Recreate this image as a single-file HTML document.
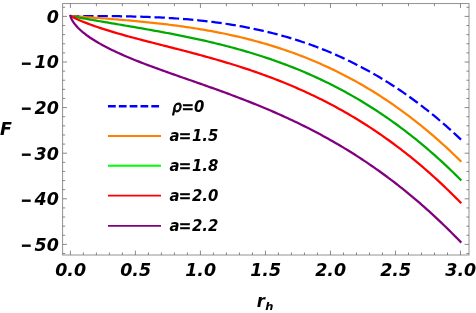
<!DOCTYPE html>
<html><head><meta charset="utf-8"><title>F vs r_h</title>
<style>html,body{margin:0;padding:0;background:#fff}svg{display:block;will-change:transform}text{font-family:"DejaVu Sans","Liberation Sans",sans-serif;font-weight:bold;font-style:italic;fill:#000}</style></head><body>
<svg width="476" height="313" viewBox="0 0 476 313">
<rect width="476" height="313" fill="#fff"/>
<polyline points="70.40,16.00 70.60,16.00 70.80,16.00 71.00,16.00 71.20,16.00 71.40,16.00 71.60,16.00 71.80,16.00 72.00,16.00 72.20,16.00 72.40,16.00 72.60,16.00 72.80,16.00 73.00,16.00 73.20,16.00 73.40,16.00 73.60,16.00 73.80,16.00 74.00,16.00 74.20,16.00 74.40,16.00 74.60,16.00 74.80,16.00 75.00,16.00 75.20,16.00 75.40,16.00 75.60,16.00 75.80,16.00 76.00,16.00 76.20,16.00 76.40,16.00 76.60,16.00 76.80,16.00 77.00,16.00 77.20,16.00 77.40,16.00 77.60,16.00 77.80,16.00 78.00,16.00 78.20,16.00 80.61,16.00 83.01,16.00 85.41,16.01 87.82,16.01 90.22,16.02 92.63,16.02 95.03,16.03 97.44,16.04 99.84,16.05 102.25,16.07 104.65,16.08 107.05,16.10 109.46,16.12 111.86,16.15 114.27,16.18 116.67,16.21 119.08,16.24 121.48,16.28 123.88,16.32 126.29,16.36 128.69,16.41 131.10,16.46 133.50,16.52 135.91,16.58 138.31,16.65 140.71,16.72 143.12,16.80 145.52,16.88 147.93,16.97 150.33,17.06 152.74,17.16 155.14,17.26 157.54,17.37 159.95,17.49 162.35,17.61 164.76,17.74 167.16,17.88 169.57,18.02 171.97,18.17 174.37,18.33 176.78,18.50 179.18,18.67 181.59,18.85 183.99,19.04 186.40,19.24 188.80,19.44 191.21,19.66 193.61,19.88 196.01,20.11 198.42,20.35 200.82,20.60 203.23,20.86 205.63,21.13 208.04,21.41 210.44,21.70 212.84,21.99 215.25,22.30 217.65,22.62 220.06,22.95 222.46,23.29 224.87,23.64 227.27,24.01 229.67,24.38 232.08,24.77 234.48,25.16 236.89,25.57 239.29,25.99 241.70,26.43 244.10,26.87 246.50,27.33 248.91,27.80 251.31,28.28 253.72,28.78 256.12,29.29 258.53,29.81 260.93,30.35 263.34,30.90 265.74,31.46 268.14,32.04 270.55,32.63 272.95,33.24 275.36,33.86 277.76,34.49 280.17,35.14 282.57,35.81 284.97,36.49 287.38,37.19 289.78,37.90 292.19,38.63 294.59,39.37 297.00,40.13 299.40,40.91 301.80,41.70 304.21,42.51 306.61,43.34 309.02,44.18 311.42,45.04 313.83,45.92 316.23,46.81 318.63,47.73 321.04,48.66 323.44,49.61 325.85,50.57 328.25,51.56 330.66,52.56 333.06,53.59 335.46,54.63 337.87,55.69 340.27,56.77 342.68,57.87 345.08,58.99 347.49,60.12 349.89,61.28 352.30,62.46 354.70,63.66 357.10,64.88 359.51,66.12 361.91,67.38 364.32,68.66 366.72,69.97 369.13,71.29 371.53,72.64 373.93,74.00 376.34,75.39 378.74,76.80 381.15,78.24 383.55,79.69 385.96,81.17 388.36,82.67 390.76,84.20 393.17,85.74 395.57,87.31 397.98,88.91 400.38,90.53 402.79,92.17 405.19,93.83 407.59,95.52 410.00,97.23 412.40,98.97 414.81,100.73 417.21,102.52 419.62,104.33 422.02,106.17 424.43,108.03 426.83,109.92 429.23,111.83 431.64,113.77 434.04,115.74 436.45,117.73 438.85,119.75 441.26,121.79 443.66,123.86 446.06,125.96 448.47,128.08 450.87,130.24 453.28,132.42 455.68,134.62 458.09,136.86 460.49,139.12 461.01,139.61" fill="none" stroke="#0000ff" stroke-width="2.25" stroke-linejoin="round" stroke-dasharray="10.4 3.87" stroke-dashoffset="1.5"/>
<polyline points="71.53,16.08 71.70,16.09 71.87,16.11 72.04,16.12 72.21,16.13 72.38,16.14 72.55,16.15 72.72,16.17 72.89,16.18 73.07,16.19 73.24,16.20 73.41,16.22 73.58,16.23 73.75,16.24 73.92,16.25 74.09,16.27 74.26,16.28 74.44,16.29 74.61,16.30 74.78,16.31 74.95,16.33 75.12,16.34 75.29,16.35 75.46,16.36 75.63,16.38 75.81,16.39 75.98,16.40 76.15,16.41 76.32,16.42 76.49,16.44 76.66,16.45 76.83,16.46 77.00,16.47 77.17,16.49 77.35,16.50 77.52,16.51 77.69,16.52 77.86,16.53 78.03,16.55 78.20,16.56 80.61,16.73 83.01,16.90 85.41,17.08 87.82,17.25 90.22,17.43 92.63,17.60 95.03,17.78 97.44,17.95 99.84,18.13 102.25,18.31 104.65,18.50 107.05,18.68 109.46,18.87 111.86,19.06 114.27,19.25 116.67,19.44 119.08,19.64 121.48,19.84 123.88,20.04 126.29,20.25 128.69,20.46 131.10,20.68 133.50,20.89 135.91,21.11 138.31,21.34 140.71,21.57 143.12,21.81 145.52,22.05 147.93,22.29 150.33,22.54 152.74,22.80 155.14,23.06 157.54,23.32 159.95,23.60 162.35,23.87 164.76,24.16 167.16,24.45 169.57,24.75 171.97,25.05 174.37,25.36 176.78,25.68 179.18,26.00 181.59,26.33 183.99,26.67 186.40,27.02 188.80,27.38 191.21,27.74 193.61,28.11 196.01,28.49 198.42,28.88 200.82,29.27 203.23,29.68 205.63,30.10 208.04,30.52 210.44,30.95 212.84,31.40 215.25,31.85 217.65,32.31 220.06,32.79 222.46,33.27 224.87,33.76 227.27,34.27 229.67,34.78 232.08,35.31 234.48,35.85 236.89,36.40 239.29,36.96 241.70,37.53 244.10,38.11 246.50,38.71 248.91,39.32 251.31,39.94 253.72,40.57 256.12,41.22 258.53,41.87 260.93,42.55 263.34,43.23 265.74,43.93 268.14,44.64 270.55,45.37 272.95,46.11 275.36,46.86 277.76,47.63 280.17,48.41 282.57,49.21 284.97,50.02 287.38,50.85 289.78,51.69 292.19,52.55 294.59,53.42 297.00,54.31 299.40,55.21 301.80,56.13 304.21,57.07 306.61,58.02 309.02,58.99 311.42,59.98 313.83,60.98 316.23,62.00 318.63,63.04 321.04,64.09 323.44,65.16 325.85,66.25 328.25,67.36 330.66,68.49 333.06,69.63 335.46,70.80 337.87,71.98 340.27,73.18 342.68,74.40 345.08,75.63 347.49,76.89 349.89,78.17 352.30,79.46 354.70,80.78 357.10,82.12 359.51,83.47 361.91,84.85 364.32,86.25 366.72,87.67 369.13,89.10 371.53,90.56 373.93,92.05 376.34,93.55 378.74,95.07 381.15,96.62 383.55,98.19 385.96,99.78 388.36,101.39 390.76,103.02 393.17,104.68 395.57,106.36 397.98,108.06 400.38,109.79 402.79,111.54 405.19,113.31 407.59,115.10 410.00,116.92 412.40,118.77 414.81,120.64 417.21,122.53 419.62,124.45 422.02,126.39 424.43,128.35 426.83,130.35 429.23,132.36 431.64,134.40 434.04,136.47 436.45,138.56 438.85,140.68 441.26,142.83 443.66,145.00 446.06,147.20 448.47,149.42 450.87,151.67 453.28,153.95 455.68,156.26 458.09,158.59 460.49,160.95" fill="none" stroke="#ff8000" stroke-width="2.25" stroke-linejoin="round" stroke-linecap="square"/>
<polyline points="71.53,16.21 71.70,16.24 71.87,16.27 72.04,16.30 72.21,16.34 72.38,16.37 72.55,16.40 72.72,16.43 72.89,16.46 73.07,16.49 73.24,16.53 73.41,16.56 73.58,16.59 73.75,16.62 73.92,16.65 74.09,16.68 74.26,16.71 74.44,16.75 74.61,16.78 74.78,16.81 74.95,16.84 75.12,16.87 75.29,16.90 75.46,16.93 75.63,16.96 75.81,17.00 75.98,17.03 76.15,17.06 76.32,17.09 76.49,17.12 76.66,17.15 76.83,17.18 77.00,17.21 77.17,17.25 77.35,17.28 77.52,17.31 77.69,17.34 77.86,17.37 78.03,17.40 78.20,17.43 80.61,17.86 83.01,18.30 85.41,18.72 87.82,19.15 90.22,19.57 92.63,19.99 95.03,20.41 97.44,20.82 99.84,21.24 102.25,21.65 104.65,22.06 107.05,22.47 109.46,22.88 111.86,23.29 114.27,23.70 116.67,24.10 119.08,24.51 121.48,24.92 123.88,25.33 126.29,25.74 128.69,26.15 131.10,26.56 133.50,26.97 135.91,27.39 138.31,27.80 140.71,28.22 143.12,28.64 145.52,29.06 147.93,29.49 150.33,29.91 152.74,30.34 155.14,30.78 157.54,31.21 159.95,31.65 162.35,32.10 164.76,32.55 167.16,33.00 169.57,33.45 171.97,33.92 174.37,34.38 176.78,34.85 179.18,35.33 181.59,35.81 183.99,36.30 186.40,36.79 188.80,37.29 191.21,37.79 193.61,38.30 196.01,38.82 198.42,39.34 200.82,39.88 203.23,40.41 205.63,40.96 208.04,41.51 210.44,42.07 212.84,42.64 215.25,43.22 217.65,43.81 220.06,44.40 222.46,45.00 224.87,45.61 227.27,46.24 229.67,46.87 232.08,47.51 234.48,48.15 236.89,48.81 239.29,49.48 241.70,50.16 244.10,50.85 246.50,51.55 248.91,52.27 251.31,52.99 253.72,53.72 256.12,54.47 258.53,55.23 260.93,55.99 263.34,56.78 265.74,57.57 268.14,58.37 270.55,59.19 272.95,60.02 275.36,60.87 277.76,61.72 280.17,62.59 282.57,63.48 284.97,64.38 287.38,65.29 289.78,66.21 292.19,67.15 294.59,68.11 297.00,69.08 299.40,70.06 301.80,71.06 304.21,72.08 306.61,73.11 309.02,74.15 311.42,75.21 313.83,76.29 316.23,77.38 318.63,78.49 321.04,79.62 323.44,80.76 325.85,81.92 328.25,83.10 330.66,84.30 333.06,85.51 335.46,86.74 337.87,87.99 340.27,89.25 342.68,90.54 345.08,91.84 347.49,93.16 349.89,94.50 352.30,95.86 354.70,97.24 357.10,98.63 359.51,100.05 361.91,101.49 364.32,102.95 366.72,104.42 369.13,105.92 371.53,107.44 373.93,108.98 376.34,110.53 378.74,112.11 381.15,113.72 383.55,115.34 385.96,116.98 388.36,118.65 390.76,120.34 393.17,122.05 395.57,123.78 397.98,125.53 400.38,127.31 402.79,129.11 405.19,130.93 407.59,132.78 410.00,134.65 412.40,136.55 414.81,138.46 417.21,140.40 419.62,142.37 422.02,144.36 424.43,146.37 426.83,148.41 429.23,150.48 431.64,152.57 434.04,154.68 436.45,156.82 438.85,158.98 441.26,161.17 443.66,163.39 446.06,165.63 448.47,167.90 450.87,170.20 453.28,172.52 455.68,174.87 458.09,177.25 460.49,179.65" fill="none" stroke="#00aa00" stroke-width="2.25" stroke-linejoin="round" stroke-linecap="square"/>
<polyline points="71.53,16.56 71.70,16.64 71.87,16.73 72.04,16.81 72.21,16.90 72.38,16.98 72.55,17.06 72.72,17.14 72.89,17.23 73.07,17.31 73.24,17.39 73.41,17.47 73.58,17.55 73.75,17.63 73.92,17.71 74.09,17.80 74.26,17.88 74.44,17.96 74.61,18.04 74.78,18.11 74.95,18.19 75.12,18.27 75.29,18.35 75.46,18.43 75.63,18.51 75.81,18.59 75.98,18.66 76.15,18.74 76.32,18.82 76.49,18.90 76.66,18.97 76.83,19.05 77.00,19.13 77.17,19.20 77.35,19.28 77.52,19.36 77.69,19.43 77.86,19.51 78.03,19.58 78.20,19.66 80.61,20.69 83.01,21.69 85.41,22.65 87.82,23.58 90.22,24.48 92.63,25.36 95.03,26.21 97.44,27.04 99.84,27.85 102.25,28.64 104.65,29.42 107.05,30.17 109.46,30.92 111.86,31.65 114.27,32.37 116.67,33.07 119.08,33.77 121.48,34.45 123.88,35.13 126.29,35.80 128.69,36.46 131.10,37.11 133.50,37.76 135.91,38.40 138.31,39.03 140.71,39.67 143.12,40.29 145.52,40.92 147.93,41.54 150.33,42.16 152.74,42.77 155.14,43.39 157.54,44.00 159.95,44.61 162.35,45.23 164.76,45.84 167.16,46.45 169.57,47.06 171.97,47.68 174.37,48.29 176.78,48.91 179.18,49.53 181.59,50.15 183.99,50.78 186.40,51.40 188.80,52.03 191.21,52.67 193.61,53.31 196.01,53.95 198.42,54.60 200.82,55.25 203.23,55.91 205.63,56.57 208.04,57.24 210.44,57.91 212.84,58.59 215.25,59.28 217.65,59.97 220.06,60.67 222.46,61.38 224.87,62.09 227.27,62.81 229.67,63.54 232.08,64.28 234.48,65.03 236.89,65.78 239.29,66.54 241.70,67.32 244.10,68.10 246.50,68.89 248.91,69.69 251.31,70.50 253.72,71.33 256.12,72.16 258.53,73.00 260.93,73.85 263.34,74.72 265.74,75.59 268.14,76.48 270.55,77.38 272.95,78.29 275.36,79.21 277.76,80.15 280.17,81.10 282.57,82.06 284.97,83.03 287.38,84.02 289.78,85.02 292.19,86.03 294.59,87.06 297.00,88.10 299.40,89.16 301.80,90.23 304.21,91.31 306.61,92.41 309.02,93.53 311.42,94.66 313.83,95.80 316.23,96.96 318.63,98.14 321.04,99.33 323.44,100.54 325.85,101.77 328.25,103.01 330.66,104.27 333.06,105.55 335.46,106.84 337.87,108.15 340.27,109.48 342.68,110.82 345.08,112.19 347.49,113.57 349.89,114.97 352.30,116.39 354.70,117.83 357.10,119.28 359.51,120.76 361.91,122.25 364.32,123.77 366.72,125.30 369.13,126.85 371.53,128.43 373.93,130.02 376.34,131.64 378.74,133.27 381.15,134.93 383.55,136.61 385.96,138.30 388.36,140.02 390.76,141.76 393.17,143.53 395.57,145.31 397.98,147.12 400.38,148.95 402.79,150.80 405.19,152.67 407.59,154.57 410.00,156.49 412.40,158.44 414.81,160.40 417.21,162.39 419.62,164.41 422.02,166.45 424.43,168.51 426.83,170.59 429.23,172.71 431.64,174.84 434.04,177.00 436.45,179.19 438.85,181.40 441.26,183.64 443.66,185.90 446.06,188.19 448.47,190.50 450.87,192.84 453.28,195.21 455.68,197.60 458.09,200.02 460.49,202.47" fill="none" stroke="#ff0000" stroke-width="2.25" stroke-linejoin="round" stroke-linecap="square"/>
<polyline points="70.40,16.00 70.60,16.65 70.80,17.22 71.00,17.74 71.20,18.22 71.40,18.67 71.60,19.09 71.80,19.49 72.00,19.87 72.20,20.24 72.40,20.59 72.60,20.93 72.80,21.25 73.00,21.57 73.20,21.88 73.40,22.18 73.60,22.48 73.80,22.76 74.00,23.04 74.20,23.32 74.40,23.59 74.60,23.85 74.80,24.11 75.00,24.36 75.20,24.61 75.40,24.86 75.60,25.10 75.80,25.33 76.00,25.57 76.20,25.80 76.40,26.03 76.60,26.25 76.80,26.47 77.00,26.69 77.20,26.91 77.40,27.12 77.60,27.33 77.80,27.54 78.00,27.75 78.20,27.95 80.61,30.25 83.01,32.33 85.41,34.24 87.82,36.03 90.22,37.71 92.63,39.30 95.03,40.81 97.44,42.26 99.84,43.65 102.25,44.99 104.65,46.29 107.05,47.54 109.46,48.76 111.86,49.94 114.27,51.09 116.67,52.22 119.08,53.32 121.48,54.39 123.88,55.45 126.29,56.48 128.69,57.50 131.10,58.50 133.50,59.48 135.91,60.45 138.31,61.40 140.71,62.34 143.12,63.27 145.52,64.19 147.93,65.10 150.33,66.01 152.74,66.90 155.14,67.78 157.54,68.66 159.95,69.53 162.35,70.40 164.76,71.26 167.16,72.12 169.57,72.97 171.97,73.82 174.37,74.67 176.78,75.51 179.18,76.36 181.59,77.20 183.99,78.04 186.40,78.88 188.80,79.72 191.21,80.56 193.61,81.40 196.01,82.24 198.42,83.08 200.82,83.93 203.23,84.77 205.63,85.62 208.04,86.47 210.44,87.33 212.84,88.18 215.25,89.05 217.65,89.91 220.06,90.78 222.46,91.66 224.87,92.54 227.27,93.42 229.67,94.31 232.08,95.21 234.48,96.11 236.89,97.02 239.29,97.94 241.70,98.86 244.10,99.79 246.50,100.73 248.91,101.67 251.31,102.62 253.72,103.59 256.12,104.56 258.53,105.53 260.93,106.52 263.34,107.52 265.74,108.53 268.14,109.54 270.55,110.57 272.95,111.61 275.36,112.65 277.76,113.71 280.17,114.78 282.57,115.86 284.97,116.95 287.38,118.05 289.78,119.17 292.19,120.30 294.59,121.44 297.00,122.59 299.40,123.75 301.80,124.93 304.21,126.12 306.61,127.32 309.02,128.54 311.42,129.77 313.83,131.02 316.23,132.28 318.63,133.56 321.04,134.85 323.44,136.15 325.85,137.47 328.25,138.81 330.66,140.16 333.06,141.52 335.46,142.91 337.87,144.30 340.27,145.72 342.68,147.15 345.08,148.60 347.49,150.06 349.89,151.55 352.30,153.05 354.70,154.57 357.10,156.10 359.51,157.66 361.91,159.23 364.32,160.82 366.72,162.43 369.13,164.06 371.53,165.70 373.93,167.37 376.34,169.05 378.74,170.76 381.15,172.49 383.55,174.23 385.96,176.00 388.36,177.78 390.76,179.59 393.17,181.42 395.57,183.26 397.98,185.13 400.38,187.03 402.79,188.94 405.19,190.87 407.59,192.83 410.00,194.81 412.40,196.81 414.81,198.83 417.21,200.88 419.62,202.95 422.02,205.04 424.43,207.16 426.83,209.30 429.23,211.46 431.64,213.65 434.04,215.86 436.45,218.09 438.85,220.35 441.26,222.64 443.66,224.94 446.06,227.28 448.47,229.64 450.87,232.02 453.28,234.43 455.68,236.87 458.09,239.33 460.49,241.82" fill="none" stroke="#800080" stroke-width="2.25" stroke-linejoin="round" stroke-linecap="square"/>
<rect x="62.6" y="3.55" width="406.4" height="251.45" fill="none" stroke="#929292" stroke-width="1"/>
<path d="M70.40 255.0 v-4.4 M83.40 255.0 v-2.6 M96.41 255.0 v-2.6 M109.41 255.0 v-2.6 M122.41 255.0 v-2.6 M135.42 255.0 v-4.4 M148.42 255.0 v-2.6 M161.42 255.0 v-2.6 M174.42 255.0 v-2.6 M187.43 255.0 v-2.6 M200.43 255.0 v-4.4 M213.43 255.0 v-2.6 M226.44 255.0 v-2.6 M239.44 255.0 v-2.6 M252.44 255.0 v-2.6 M265.45 255.0 v-4.4 M278.45 255.0 v-2.6 M291.45 255.0 v-2.6 M304.45 255.0 v-2.6 M317.46 255.0 v-2.6 M330.46 255.0 v-4.4 M343.46 255.0 v-2.6 M356.47 255.0 v-2.6 M369.47 255.0 v-2.6 M382.47 255.0 v-2.6 M395.48 255.0 v-4.4 M408.48 255.0 v-2.6 M421.48 255.0 v-2.6 M434.48 255.0 v-2.6 M447.49 255.0 v-2.6 M460.49 255.0 v-4.4 M70.40 3.55 v4.4 M96.41 3.55 v2.6 M122.41 3.55 v2.6 M148.42 3.55 v2.6 M174.42 3.55 v2.6 M200.43 3.55 v4.4 M226.44 3.55 v2.6 M252.44 3.55 v2.6 M278.45 3.55 v2.6 M304.45 3.55 v2.6 M330.46 3.55 v4.4 M356.47 3.55 v2.6 M382.47 3.55 v2.6 M408.48 3.55 v2.6 M434.48 3.55 v2.6 M460.49 3.55 v4.4 M62.6 253.52 h2.6 M469.0 253.52 h-2.6 M62.6 244.40 h4.4 M469.0 244.40 h-4.4 M62.6 235.28 h2.6 M469.0 235.28 h-2.6 M62.6 226.16 h2.6 M469.0 226.16 h-2.6 M62.6 217.04 h2.6 M469.0 217.04 h-2.6 M62.6 207.92 h2.6 M469.0 207.92 h-2.6 M62.6 198.80 h4.4 M469.0 198.80 h-4.4 M62.6 189.68 h2.6 M469.0 189.68 h-2.6 M62.6 180.56 h2.6 M469.0 180.56 h-2.6 M62.6 171.44 h2.6 M469.0 171.44 h-2.6 M62.6 162.32 h2.6 M469.0 162.32 h-2.6 M62.6 153.20 h4.4 M469.0 153.20 h-4.4 M62.6 144.08 h2.6 M469.0 144.08 h-2.6 M62.6 134.96 h2.6 M469.0 134.96 h-2.6 M62.6 125.84 h2.6 M469.0 125.84 h-2.6 M62.6 116.72 h2.6 M469.0 116.72 h-2.6 M62.6 107.60 h4.4 M469.0 107.60 h-4.4 M62.6 98.48 h2.6 M469.0 98.48 h-2.6 M62.6 89.36 h2.6 M469.0 89.36 h-2.6 M62.6 80.24 h2.6 M469.0 80.24 h-2.6 M62.6 71.12 h2.6 M469.0 71.12 h-2.6 M62.6 62.00 h4.4 M469.0 62.00 h-4.4 M62.6 52.88 h2.6 M469.0 52.88 h-2.6 M62.6 43.76 h2.6 M469.0 43.76 h-2.6 M62.6 34.64 h2.6 M469.0 34.64 h-2.6 M62.6 25.52 h2.6 M469.0 25.52 h-2.6 M62.6 16.40 h4.4 M469.0 16.40 h-4.4 M62.6 7.28 h2.6 M469.0 7.28 h-2.6" fill="none" stroke="#5a5a5a" stroke-width="0.7"/>
<text transform="translate(58.80,22.80) scale(0.955,1)" font-size="18.3" text-anchor="end">0</text>
<text transform="translate(58.80,68.40) scale(0.955,1)" font-size="18.3" text-anchor="end"><tspan font-size="13.3" dy="-0.7" stroke="#000" stroke-width="0.85">−</tspan><tspan dx="3.3" dy="0.7">10</tspan></text>
<text transform="translate(58.80,114.00) scale(0.955,1)" font-size="18.3" text-anchor="end"><tspan font-size="13.3" dy="-0.7" stroke="#000" stroke-width="0.85">−</tspan><tspan dx="3.3" dy="0.7">20</tspan></text>
<text transform="translate(58.80,159.60) scale(0.955,1)" font-size="18.3" text-anchor="end"><tspan font-size="13.3" dy="-0.7" stroke="#000" stroke-width="0.85">−</tspan><tspan dx="3.3" dy="0.7">30</tspan></text>
<text transform="translate(58.80,205.20) scale(0.955,1)" font-size="18.3" text-anchor="end"><tspan font-size="13.3" dy="-0.7" stroke="#000" stroke-width="0.85">−</tspan><tspan dx="3.3" dy="0.7">40</tspan></text>
<text transform="translate(58.80,250.80) scale(0.955,1)" font-size="18.3" text-anchor="end"><tspan font-size="13.3" dy="-0.7" stroke="#000" stroke-width="0.85">−</tspan><tspan dx="3.3" dy="0.7">50</tspan></text>
<text transform="translate(70.60,276.00) scale(0.955,1)" font-size="18.3" text-anchor="middle">0.0</text>
<text transform="translate(135.62,276.00) scale(0.955,1)" font-size="18.3" text-anchor="middle">0.5</text>
<text transform="translate(200.63,276.00) scale(0.955,1)" font-size="18.3" text-anchor="middle">1.0</text>
<text transform="translate(265.65,276.00) scale(0.955,1)" font-size="18.3" text-anchor="middle">1.5</text>
<text transform="translate(330.66,276.00) scale(0.955,1)" font-size="18.3" text-anchor="middle">2.0</text>
<text transform="translate(395.68,276.00) scale(0.955,1)" font-size="18.3" text-anchor="middle">2.5</text>
<text transform="translate(460.69,276.00) scale(0.955,1)" font-size="18.3" text-anchor="middle">3.0</text>
<text transform="translate(0.05,135.40) scale(1.0,1)" font-size="17.4">F</text>
<text transform="translate(256.70,306.80) scale(0.93,1)" font-size="17.8">r</text>
<text transform="translate(265.20,310.30) scale(1.05,1)" font-size="11.0">h</text>
<line x1="108" y1="106.3" x2="160.6" y2="106.3" stroke="#0000ff" stroke-width="2.4" stroke-dasharray="7.75 3.08"/>
<text transform="translate(172.20,111.50) scale(0.93,1)" font-size="16.0"><tspan font-weight="normal" stroke="#000" stroke-width="0.85">ρ</tspan><tspan dx="-0.1" stroke="#000" stroke-width="0.4">=</tspan>0</text>
<line x1="108" y1="136.0" x2="161" y2="136.0" stroke="#ff8000" stroke-width="1.85"/>
<text transform="translate(169.40,141.30) scale(0.93,1)" font-size="16.0">a<tspan dx="-0.6" stroke="#000" stroke-width="0.4">=</tspan><tspan dx="0.6">1.5</tspan></text>
<line x1="108" y1="165.7" x2="161" y2="165.7" stroke="#00ff00" stroke-width="1.85"/>
<text transform="translate(169.40,171.00) scale(0.93,1)" font-size="16.0">a<tspan dx="-0.6" stroke="#000" stroke-width="0.4">=</tspan><tspan dx="0.6">1.8</tspan></text>
<line x1="108" y1="195.6" x2="161" y2="195.6" stroke="#ff0000" stroke-width="1.85"/>
<text transform="translate(169.40,200.90) scale(0.93,1)" font-size="16.0">a<tspan dx="-0.6" stroke="#000" stroke-width="0.4">=</tspan><tspan dx="0.6">2.0</tspan></text>
<line x1="108" y1="225.8" x2="161" y2="225.8" stroke="#800080" stroke-width="1.85"/>
<text transform="translate(169.40,231.10) scale(0.93,1)" font-size="16.0">a<tspan dx="-0.6" stroke="#000" stroke-width="0.4">=</tspan><tspan dx="0.6">2.2</tspan></text>
</svg></body></html>
